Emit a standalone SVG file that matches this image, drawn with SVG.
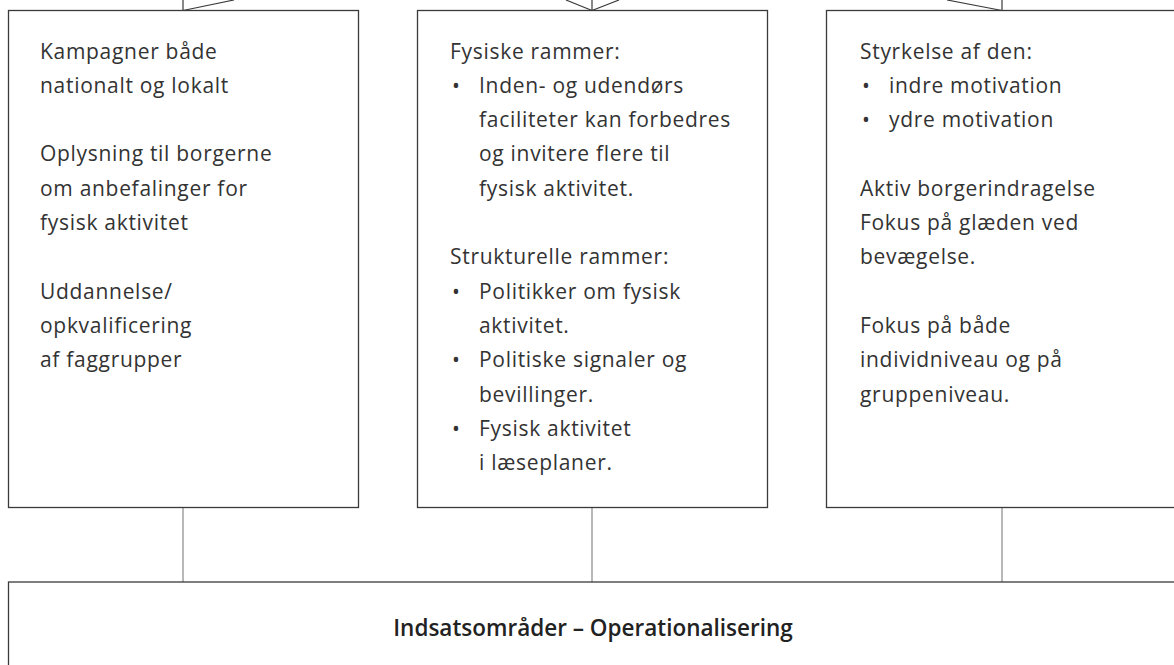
<svg xmlns="http://www.w3.org/2000/svg" width="1174" height="665" viewBox="0 0 1174 665">
<style>
  .box { fill: #fff; stroke: #3a3a3a; stroke-width: 1.3; }
  .top { stroke: #3a3a3a; stroke-width: 1.2; fill: none; }
  .conn { stroke: #a0a0a0; stroke-width: 1.5; fill: none; }
  .t { font-family: "Open Sans", "Liberation Sans", sans-serif; font-size: 21px; letter-spacing: 0.7px; fill: #333; }
  .title { font-family: "Open Sans", "Liberation Sans", sans-serif; font-size: 22.5px; font-weight: 600; fill: #222; }
</style>
<rect width="1174" height="665" fill="#fff"/>
<g id="connectors">
  <line class="top" x1="183" y1="0" x2="183" y2="10.5"/>
  <line class="top" x1="234" y1="0" x2="183" y2="10.5"/>
  <line class="top" x1="592" y1="0" x2="592" y2="10.5"/>
  <line class="top" x1="566" y1="0" x2="592" y2="10.5"/>
  <line class="top" x1="619" y1="0" x2="592" y2="10.5"/>
  <line class="top" x1="1002" y1="0" x2="1002" y2="10.5"/>
  <line class="top" x1="947" y1="0" x2="1002" y2="10.5"/>
  <line class="conn" x1="183" y1="507.5" x2="183" y2="582"/>
  <line class="conn" x1="592" y1="507.5" x2="592" y2="582"/>
  <line class="conn" x1="1002" y1="507.5" x2="1002" y2="582"/>
</g>
<g id="node-kampagner">
  <rect class="box" x="8.5" y="10.5" width="350" height="497"/>
  <text class="t" x="40" y="58.5">Kampagner både</text>
  <text class="t" x="40" y="92.8">nationalt og lokalt</text>
  <text class="t" x="40" y="161.4">Oplysning til borgerne</text>
  <text class="t" x="40" y="195.7">om anbefalinger for</text>
  <text class="t" x="40" y="230">fysisk aktivitet</text>
  <text class="t" x="40" y="298.6">Uddannelse/</text>
  <text class="t" x="40" y="332.9">opkvalificering</text>
  <text class="t" x="40" y="367.2">af faggrupper</text>
</g>
<g id="node-rammer">
  <rect class="box" x="417.5" y="10.5" width="350" height="497"/>
  <text class="t" x="450" y="58.5">Fysiske rammer:</text>
  <text class="t" x="452" y="92.8">•</text>
  <text class="t" x="479" y="92.8">Inden- og udendørs</text>
  <text class="t" x="479" y="127.1">faciliteter kan forbedres</text>
  <text class="t" x="479" y="161.4">og invitere flere til</text>
  <text class="t" x="479" y="195.7">fysisk aktivitet.</text>
  <text class="t" x="450" y="264.3">Strukturelle rammer:</text>
  <text class="t" x="452" y="298.6">•</text>
  <text class="t" x="479" y="298.6">Politikker om fysisk</text>
  <text class="t" x="479" y="332.9">aktivitet.</text>
  <text class="t" x="452" y="367.2">•</text>
  <text class="t" x="479" y="367.2">Politiske signaler og</text>
  <text class="t" x="479" y="401.5">bevillinger.</text>
  <text class="t" x="452" y="435.8">•</text>
  <text class="t" x="479" y="435.8">Fysisk aktivitet</text>
  <text class="t" x="479" y="470.1">i læseplaner.</text>
</g>
<g id="node-motivation">
  <rect class="box" x="826.5" y="10.5" width="360" height="497"/>
  <text class="t" x="860" y="58.5">Styrkelse af den:</text>
  <text class="t" x="862" y="92.8">•</text>
  <text class="t" x="889" y="92.8">indre motivation</text>
  <text class="t" x="862" y="127.1">•</text>
  <text class="t" x="889" y="127.1">ydre motivation</text>
  <text class="t" x="860" y="195.7">Aktiv borgerindragelse</text>
  <text class="t" x="860" y="230">Fokus på glæden ved</text>
  <text class="t" x="860" y="264.3">bevægelse.</text>
  <text class="t" x="860" y="332.9">Fokus på både</text>
  <text class="t" x="860" y="367.2">individniveau og på</text>
  <text class="t" x="860" y="401.5">gruppeniveau.</text>
</g>
<g id="node-indsats">
  <rect class="box" x="8.5" y="582" width="1180" height="100"/>
  <text class="title" x="593" y="636" text-anchor="middle">Indsatsområder – Operationalisering</text>
</g>
</svg>
